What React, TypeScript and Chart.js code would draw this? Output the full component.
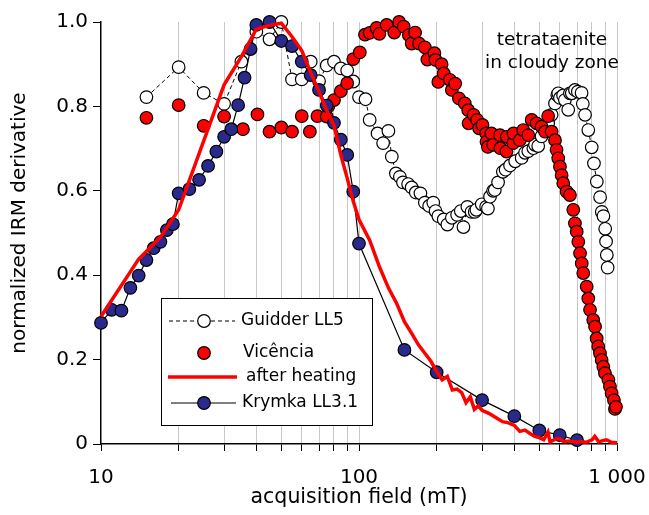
import React, { useEffect, useRef } from 'react';
import { Chart, registerables } from 'chart.js';

Chart.register(...registerables);

const FONT = "'DejaVu Sans', Verdana, sans-serif";

// ---- data ----
const guidderX = [15, 20, 25, 30, 35, 40, 45, 50, 55, 60, 65, 70, 75, 80, 85, 90, 95, 100, 106, 110, 118, 124, 130, 134, 139, 144, 148, 155, 160, 166, 173, 180, 187, 194, 198, 203, 213, 220, 229, 240, 248, 254, 263, 273, 281, 285, 299, 311, 316, 322, 331, 336, 346, 361, 370, 385, 403, 427, 440, 453, 474, 481, 495, 510, 526, 541, 558, 575, 587, 592, 601, 618, 628, 647, 657, 668, 687, 705, 729, 737, 752, 774, 798, 814, 835, 860, 873, 886, 900, 907, 913, 920];
const guidderY = [0.822, 0.893, 0.832, 0.806, 0.906, 0.977, 0.959, 1.0, 0.864, 0.864, 0.906, 0.860, 0.897, 0.906, 0.890, 0.885, 0.859, 0.822, 0.817, 0.768, 0.736, 0.713, 0.742, 0.681, 0.641, 0.633, 0.620, 0.616, 0.608, 0.596, 0.594, 0.572, 0.564, 0.572, 0.552, 0.540, 0.532, 0.520, 0.536, 0.543, 0.552, 0.514, 0.562, 0.550, 0.550, 0.555, 0.568, 0.562, 0.558, 0.586, 0.600, 0.602, 0.620, 0.645, 0.650, 0.660, 0.670, 0.678, 0.690, 0.694, 0.701, 0.709, 0.706, 0.729, 0.745, 0.760, 0.780, 0.807, 0.827, 0.831, 0.820, 0.826, 0.815, 0.792, 0.831, 0.831, 0.839, 0.835, 0.832, 0.806, 0.780, 0.744, 0.703, 0.665, 0.622, 0.585, 0.550, 0.540, 0.510, 0.480, 0.448, 0.418];

const vicenciaX = [15, 20, 25, 30, 35.5, 40.4, 45, 50, 55, 60, 64.5, 69, 75, 76, 80, 85, 90, 95, 100.7, 105.5, 110, 117, 120, 128, 137, 143, 149, 156, 160, 165, 171, 180, 184, 196, 198, 203, 209, 213, 225, 229, 236, 244, 257, 265, 266, 278, 287, 292, 301, 311, 312, 316, 326, 331, 352, 353, 373, 374, 396, 397, 420, 433, 453, 467, 488, 510, 526, 541, 558, 575, 583, 592, 601, 610, 619, 638, 657, 677, 687, 698, 708, 719, 730, 740, 763, 774, 786, 809, 822, 834, 846, 859, 872, 885, 898, 926, 939, 953, 973, 982, 991];
const vicenciaY = [0.773, 0.803, 0.754, 0.776, 0.746, 0.781, 0.740, 0.750, 0.740, 0.777, 0.740, 0.777, 0.776, 0.800, 0.815, 0.836, 0.855, 0.912, 0.928, 0.970, 0.974, 0.986, 0.972, 0.993, 0.975, 1.0, 0.989, 0.969, 0.949, 0.975, 0.949, 0.940, 0.911, 0.926, 0.910, 0.858, 0.900, 0.878, 0.863, 0.839, 0.854, 0.819, 0.807, 0.791, 0.760, 0.780, 0.768, 0.748, 0.756, 0.736, 0.716, 0.704, 0.736, 0.709, 0.732, 0.701, 0.693, 0.728, 0.713, 0.736, 0.720, 0.744, 0.732, 0.768, 0.760, 0.752, 0.740, 0.777, 0.740, 0.720, 0.697, 0.677, 0.657, 0.637, 0.618, 0.598, 0.590, 0.555, 0.523, 0.503, 0.479, 0.452, 0.428, 0.405, 0.373, 0.345, 0.318, 0.294, 0.278, 0.250, 0.231, 0.215, 0.199, 0.183, 0.168, 0.152, 0.136, 0.120, 0.104, 0.083, 0.088];

const heatingX = [10, 14, 17, 20, 30, 35, 40, 45, 50, 55, 60, 65, 70, 75, 80, 85, 90, 95, 100, 110, 120, 130, 140, 150, 160, 170, 180, 190, 200, 210, 220, 230, 240, 250, 260, 270, 280, 290, 300, 320, 340, 360, 380, 400, 420, 440, 460, 480, 500, 520, 540, 550, 580, 600, 620, 660, 700, 720, 760, 800, 820, 850, 880, 910, 950, 1000];
const heatingY = [0.302, 0.438, 0.49, 0.555, 0.851, 0.918, 0.983, 0.992, 0.997, 0.965, 0.932, 0.88, 0.835, 0.79, 0.755, 0.685, 0.63, 0.575, 0.532, 0.483, 0.42, 0.37, 0.333, 0.29, 0.262, 0.235, 0.215, 0.196, 0.172, 0.152, 0.16, 0.128, 0.13, 0.122, 0.098, 0.112, 0.082, 0.09, 0.08, 0.072, 0.062, 0.053, 0.05, 0.044, 0.03, 0.033, 0.025, 0.018, 0.015, 0.01, 0.028, 0.005, 0.012, 0.013, 0.006, 0.007, 0.004, 0.006, 0.004, 0.01, 0.018, 0.005, 0.008, 0.01, 0.004, 0.003];

const krymkaX = [10, 11, 12, 13, 14, 15, 16, 17, 18, 19, 20, 22, 24, 26, 28, 30, 32, 34, 36, 38, 40, 45, 50, 55, 60, 65, 70, 75, 80, 85, 90, 95, 100, 150, 200, 300, 400, 500, 600, 700];
const krymkaY = [0.287, 0.318, 0.316, 0.370, 0.399, 0.436, 0.464, 0.479, 0.507, 0.521, 0.594, 0.604, 0.626, 0.659, 0.693, 0.728, 0.746, 0.803, 0.868, 0.936, 0.993, 1.0, 0.955, 0.943, 0.906, 0.874, 0.839, 0.802, 0.761, 0.721, 0.685, 0.598, 0.475, 0.223, 0.170, 0.104, 0.066, 0.032, 0.021, 0.009];

const xTickValues = [10, 20, 30, 40, 50, 60, 70, 80, 90, 100, 200, 300, 400, 500, 600, 700, 800, 900, 1000];
const xMajorValues = [10, 100, 1000];
const xMajorLabels = ['10', '100', '1 000'];

const xTitle = 'acquisition field (mT)';
const yTitle = 'normalized IRM derivative';
const legendLabels = ['Guidder LL5', 'Vicência', 'after heating', 'Krymka LL3.1'];
const annotationLines = ['tetrataenite', 'in cloudy zone'];

const RED = '#ff0000';
const BLUE = '#2a2a8c';

const zip = (xs: number[], ys: number[]) => xs.map((x, i) => ({ x, y: ys[i] }));

const overlayPlugin = {
  id: 'overlay',
  afterDraw(chart: any) {
    const ctx = chart.ctx as CanvasRenderingContext2D;
    const area = chart.chartArea;
    ctx.save();
    // y axis title
    ctx.save();
    ctx.translate(20, (area.top + area.bottom) / 2 - 10);
    ctx.rotate(-Math.PI / 2);
    ctx.fillStyle = '#000';
    ctx.font = `20px ${FONT}`;
    ctx.textAlign = 'center';
    ctx.textBaseline = 'middle';
    ctx.fillText(yTitle, 0, 0);
    ctx.restore();

    // annotation
    ctx.fillStyle = '#000';
    ctx.font = `18.5px ${FONT}`;
    ctx.textAlign = 'center';
    ctx.textBaseline = 'middle';
    annotationLines.forEach((t, i) => ctx.fillText(t, 552, 40 + i * 23));

    // legend box
    ctx.fillStyle = '#fff';
    ctx.fillRect(161, 298, 212, 128);
    ctx.strokeStyle = '#000';
    ctx.lineWidth = 1;
    ctx.strokeRect(161.5, 298.5, 211, 127);

    const rows = [321, 353, 377, 403];
    const symX = 204;
    // Guidder
    ctx.setLineDash([4, 3]);
    ctx.beginPath();
    ctx.moveTo(169, rows[0]);
    ctx.lineTo(235, rows[0]);
    ctx.stroke();
    ctx.setLineDash([]);
    const circle = (x: number, y: number, fill: string) => {
      ctx.beginPath();
      ctx.arc(x, y, 6.3, 0, Math.PI * 2);
      ctx.fillStyle = fill;
      ctx.fill();
      ctx.lineWidth = 1.2;
      ctx.strokeStyle = '#000';
      ctx.stroke();
    };
    circle(symX, rows[0], '#fff');
    // Vicencia
    circle(symX, rows[1], RED);
    // after heating
    ctx.beginPath();
    ctx.strokeStyle = RED;
    ctx.lineWidth = 3.5;
    ctx.moveTo(168, rows[2]);
    ctx.lineTo(237, rows[2]);
    ctx.stroke();
    // Krymka
    ctx.beginPath();
    ctx.strokeStyle = '#000';
    ctx.lineWidth = 1.2;
    ctx.moveTo(171, rows[3]);
    ctx.lineTo(236, rows[3]);
    ctx.stroke();
    circle(symX, rows[3], BLUE);

    ctx.fillStyle = '#000';
    ctx.font = `17px ${FONT}`;
    ctx.textAlign = 'left';
    ctx.textBaseline = 'middle';
    const textX = [241, 243, 246, 242];
    legendLabels.forEach((t, i) => ctx.fillText(t, textX[i], rows[i]));
    ctx.restore();
  },
};

export default function App() {
  const canvasRef = useRef<HTMLCanvasElement | null>(null);

  useEffect(() => {
    document.body.style.margin = '0';
    const canvas = canvasRef.current;
    if (!canvas) return;
    Chart.defaults.font.family = FONT;
    Chart.defaults.color = '#000';

    const pointStyle = {
      pointRadius: 6.3,
      pointBorderColor: '#000',
      pointBorderWidth: 1.2,
      clip: 10,
    };

    const chart = new Chart(canvas, {
      type: 'line',
      data: {
        datasets: [
          {
            label: legendLabels[2],
            data: zip(heatingX, heatingY),
            borderColor: RED,
            borderWidth: 3.5,
            pointRadius: 0,
            fill: false,
            tension: 0,
            order: 0,
            clip: 4,
          },
          {
            label: legendLabels[3],
            data: zip(krymkaX, krymkaY),
            borderColor: '#000',
            borderWidth: 1.2,
            pointBackgroundColor: BLUE,
            fill: false,
            order: 1,
            ...pointStyle,
          },
          {
            label: legendLabels[1],
            data: zip(vicenciaX, vicenciaY),
            showLine: false,
            pointBackgroundColor: RED,
            order: 2,
            ...pointStyle,
          },
          {
            label: legendLabels[0],
            data: zip(guidderX, guidderY),
            borderColor: '#000',
            borderWidth: 1,
            borderDash: [4, 3],
            pointBackgroundColor: '#fff',
            fill: false,
            order: 3,
            ...pointStyle,
          },
        ],
      },
      options: {
        responsive: false,
        animation: false,
        layout: { padding: { left: 0, top: 22, right: 32, bottom: 0 } },
        plugins: { legend: { display: false }, tooltip: { enabled: false } },
        scales: {
          x: {
            type: 'logarithmic',
            min: 10,
            max: 1000,
            afterBuildTicks: (scale: any) => {
              scale.ticks = xTickValues.map((v) => ({ value: v }));
            },
            afterFit: (scale: any) => {
              scale.height = 71;
              scale.paddingLeft = 0;
              scale.paddingRight = 30;
            },
            ticks: {
              autoSkip: false,
              maxRotation: 0,
              padding: 15,
              font: { size: 20, family: FONT },
              color: '#000',
              callback: (v: any) => {
                const i = xMajorValues.indexOf(Number(v));
                return i >= 0 ? xMajorLabels[i] : '';
              },
            },
            grid: {
              color: (ctx: any) => (ctx.tick && ctx.tick.value === 10 ? 'rgba(0,0,0,0)' : '#c8c8c8'),
              lineWidth: 1,
              tickColor: '#000',
              tickLength: 7,
            },
            border: { color: '#000', width: 1.5 },
            title: {
              display: true,
              text: xTitle,
              font: { size: 20.5, family: FONT },
              color: '#000',
              padding: { top: 0, bottom: 5 },
            },
          },
          y: {
            type: 'linear',
            min: 0,
            max: 1,
            afterFit: (scale: any) => {
              scale.width = 101;
            },
            ticks: {
              stepSize: 0.2,
              padding: 5,
              font: { size: 20, family: FONT },
              color: '#000',
              callback: (v: any) => (Number(v) === 0 ? '0' : Number(v).toFixed(1)),
            },
            grid: {
              drawOnChartArea: false,
              tickColor: '#000',
              tickLength: 8,
            },
            border: { color: '#000', width: 1.5 },
            title: { display: false },
          },
        },
      },
      plugins: [overlayPlugin],
    } as any);

    return () => chart.destroy();
  }, []);

  return (
    <div style={{ width: 649, height: 515 }}>
      <canvas ref={canvasRef} width={649} height={515} style={{ display: 'block' }} />
    </div>
  );
}
